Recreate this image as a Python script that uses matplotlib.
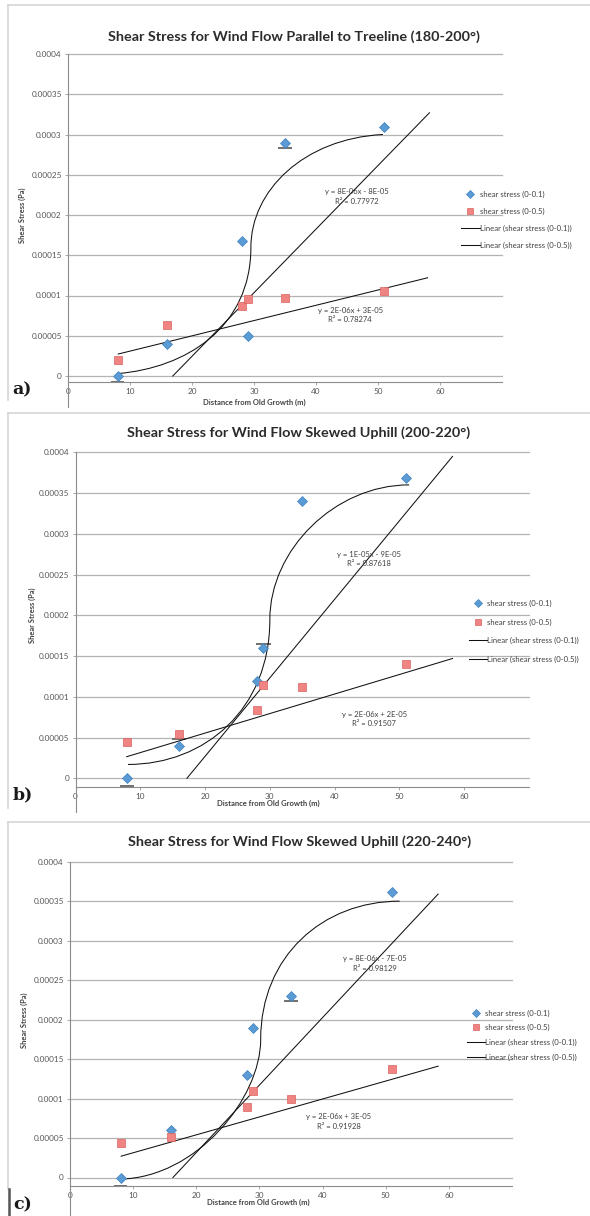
import matplotlib
matplotlib.use("Agg")
import matplotlib.pyplot as plt
from matplotlib.path import Path
from matplotlib.patches import PathPatch
from matplotlib.lines import Line2D

plt.rcParams['font.family'] = ['Lato', 'DejaVu Sans']

########### Data ##################################
distance = [8, 16, 28, 29, 35, 51]

x_ticks = [0, 10, 20, 30, 40, 50, 60]
x_tick_labels = ['0', '10', '20', '30', '40', '50', '60']
y_ticks = [0, 0.00005, 0.0001, 0.00015, 0.0002, 0.00025, 0.0003, 0.00035, 0.0004]
y_tick_labels = ['0', '0.00005', '0.0001', '0.00015', '0.0002', '0.00025',
                 '0.0003', '0.00035', '0.0004']

legend_labels = ['shear stress (0-0.1)', 'shear stress (0-0.5)',
                 'Linear (shear stress (0-0.1))', 'Linear (shear stress (0-0.5))']

titles = ['Shear Stress for Wind Flow Parallel to Treeline (180-200°)',
          'Shear Stress for Wind Flow Skewed Uphill (200-220°)',
          'Shear Stress for Wind Flow Skewed Uphill (220-240°)']
panel_letters = ['a)', 'b)', 'c)']

# a) 180-200 deg
stress_01_a = [0, 3.98e-5, 1.68e-4, 4.97e-5, 2.89e-4, 3.09e-4]
stress_05_a = [2.0e-5, 6.3e-5, 8.7e-5, 9.6e-5, 9.7e-5, 1.06e-4]
trend_01_a = [(16.9, 0), (58.3, 3.27e-4)]
trend_05_a = [(8.1, 2.73e-5), (58.0, 1.22e-4)]
curve_a = [(8, 3e-6), (19, 1e-5), (29.5, 6e-5), (29.5, 1.6e-4),
           (29.5, 2.3e-4), (38, 2.95e-4), (50.8, 3.0e-4)]
eq_01_a = 'y = 8E-06x - 8E-05\nR² = 0.77972'
eq_05_a = 'y = 2E-06x + 3E-05\nR² = 0.78274'
dash_a = [(8, -7e-6), (35, 2.83e-4)]

# b) 200-220 deg
stress_01_b = [0, 3.96e-5, 1.19e-4, 1.60e-4, 3.40e-4, 3.69e-4]
stress_05_b = [4.42e-5, 5.4e-5, 8.4e-5, 1.14e-4, 1.12e-4, 1.40e-4]
trend_01_b = [(17.2, 0), (58.2, 3.95e-4)]
trend_05_b = [(7.9, 2.65e-5), (58.2, 1.47e-4)]
curve_b = [(8.1, 1.7e-5), (20, 1.7e-5), (30, 8.5e-5), (30, 1.95e-4),
           (30, 2.8e-4), (40, 3.6e-4), (51.5, 3.6e-4)]
eq_01_b = 'y = 1E-05x - 9E-05\nR² = 0.87618'
eq_05_b = 'y = 2E-06x + 2E-05\nR² = 0.91507'
dash_b = [(8, -1.0e-5), (29, 1.65e-4), (16, 4.8e-5)]

# c) 220-240 deg
stress_01_c = [0, 6.0e-5, 1.30e-4, 1.89e-4, 2.30e-4, 3.61e-4]
stress_05_c = [4.4e-5, 5.1e-5, 8.9e-5, 1.09e-4, 9.9e-5, 1.37e-4]
trend_01_c = [(16.3, 0), (58.3, 3.59e-4)]
trend_05_c = [(8.1, 2.7e-5), (58.3, 1.41e-4)]
curve_c = [(8, -2e-6), (20, 0), (30.2, 1.0e-4), (30.2, 1.75e-4),
           (30.2, 2.8e-4), (40, 3.5e-4), (52.2, 3.5e-4)]
eq_01_c = 'y = 8E-06x - 7E-05\nR² = 0.98129'
eq_05_c = 'y = 2E-06x + 3E-05\nR² = 0.91928'
dash_c = [(8, -1.08e-5), (35, 2.24e-4)]

########### Layout (pixels of a 590x1216 picture) #############
W, H = 590, 1216
BLUE, BLUE_EDGE = '#5b9bd5', '#3f7fbf'
RED, RED_EDGE = '#f08482', '#d9625f'
GRID = '#b3b3b3'


def fx(x):
    return x / W


def fy(y):
    return 1 - y / H


fig = plt.figure(figsize=(W / 100, H / 100), dpi=100)


def draw_panel(i, s01, s05, t01, t05, curve, eq01, eq05, dashes,
               box, eq_pos, leg, title_xy, ylab_xy, xlab_xy, letter_xy):
    x0, x1, ytop, yzero, ybot = box
    ax = fig.add_axes([fx(x0), fy(ybot), (x1 - x0) / W, (ybot - ytop) / H])
    ymin = -(ybot - yzero) / (yzero - ytop) * 0.0004
    ax.set_xlim(0, 70)
    ax.set_ylim(ymin, 0.0004)

    ax.set_yticks(y_ticks)
    ax.set_yticklabels(y_tick_labels)
    ax.set_xticks(x_ticks)
    ax.set_xticklabels(x_tick_labels)
    ax.tick_params(labelsize=5.9, labelcolor='#555555', color='#999999',
                   length=2.5, width=0.6, pad=2)
    ax.grid(axis='y', color=GRID, lw=0.9)
    for s in ['top', 'right']:
        ax.spines[s].set_visible(False)
    for s in ['left', 'bottom']:
        ax.spines[s].set_color('#8c8c8c')
        ax.spines[s].set_linewidth(0.8)
    for tl in ax.get_ygridlines():
        tl.set_clip_on(False)

    # short grey dashes under some markers
    for dx, dy in dashes:
        ax.plot([dx - 1.1, dx + 1.1], [dy, dy], color='#707070', lw=1.4,
                solid_capstyle='butt', clip_on=False, zorder=2)

    # hand drawn S-curve
    codes = [Path.MOVETO] + [Path.CURVE4] * 6
    ax.add_patch(PathPatch(Path(curve, codes), fill=False, ec='#111111', lw=0.75, zorder=3))

    l01, = ax.plot([p[0] for p in t01], [p[1] for p in t01], color='#111111', lw=0.75, zorder=3)
    l05, = ax.plot([p[0] for p in t05], [p[1] for p in t05], color='#111111', lw=0.75, zorder=3)

    m01, = ax.plot(distance, s01, ls='none', marker='D', ms=5.2, mfc=BLUE,
                   mec=BLUE_EDGE, mew=0.5, zorder=4, clip_on=False)
    m05, = ax.plot(distance, s05, ls='none', marker='s', ms=6.3, mfc=RED,
                   mec=RED_EDGE, mew=0.5, zorder=4, clip_on=False)

    for txt, (ex, ey) in zip([eq01, eq05], eq_pos):
        ax.text(ex, ey, txt, ha='center', va='center', fontsize=5.5,
                color='#404040', linespacing=1.4, zorder=5)

    lx, ly, lsp = leg
    ax.legend([m01, m05, l01, l05], legend_labels, loc='center left',
              bbox_to_anchor=(fx(lx), fy(ly)), bbox_transform=fig.transFigure,
              frameon=False, fontsize=5.6, labelspacing=lsp, handlelength=2.4,
              handletextpad=0.0, borderpad=0, borderaxespad=0, numpoints=1,
              markerscale=0.75, labelcolor='#404040')

    fig.text(fx(title_xy[0]), fy(title_xy[1]), titles[i], ha='center', va='center',
             fontsize=10.4, fontweight='bold', color='#2b2b2b')
    fig.text(fx(ylab_xy[0]), fy(ylab_xy[1]), 'Shear Stress (Pa)', rotation=90,
             ha='center', va='center', fontsize=5.4, fontweight='bold', color='#404040')
    fig.text(fx(xlab_xy[0]), fy(xlab_xy[1]), 'Distance from Old Growth (m)',
             ha='center', va='center', fontsize=5.5, fontweight='bold', color='#404040')
    fig.text(fx(letter_xy[0]), fy(letter_xy[1]), panel_letters[i], ha='center',
             va='center', fontsize=12.5, fontweight='bold', family='DejaVu Serif',
             color='#1a1a1a')
    return ax


draw_panel(0, stress_01_a, stress_05_a, trend_01_a, trend_05_a, curve_a,
           eq_01_a, eq_05_a, dash_a,
           box=(68, 502, 54, 376, 382),
           eq_pos=[(46.6, 2.23e-4), (45.5, 7.6e-5)],
           leg=(461, 220, 1.25),
           title_xy=(293.5, 37), ylab_xy=(22, 215), xlab_xy=(254, 402),
           letter_xy=(22, 390))

draw_panel(1, stress_01_b, stress_05_b, trend_01_b, trend_05_b, curve_b,
           eq_01_b, eq_05_b, dash_b,
           box=(75.5, 529, 452.3, 778.3, 786.5),
           eq_pos=[(45.3, 2.69e-4), (46.1, 7.25e-5)],
           leg=(468.6, 631.3, 1.48),
           title_xy=(299, 433), ylab_xy=(32, 615), xlab_xy=(268, 803),
           letter_xy=(23, 795))

draw_panel(2, stress_01_c, stress_05_c, trend_01_c, trend_05_c, curve_c,
           eq_01_c, eq_05_c, dash_c,
           box=(70, 512, 861.7, 1177.5, 1186),
           eq_pos=[(48.3, 2.71e-4), (42.6, 7.1e-5)],
           leg=(466.5, 1035, 0.96),
           title_xy=(300, 841.7), ylab_xy=(24.5, 1020), xlab_xy=(258.7, 1202),
           letter_xy=(23, 1205))

########### Chart frames and axis stubs #############
FRAME = '#d6d6d6'
for top, bottom in [(5, 400), (413, 808), (822, 1189)]:
    fig.add_artist(Line2D([fx(7.5), fx(W)], [fy(top), fy(top)], color=FRAME, lw=1.2))
    fig.add_artist(Line2D([fx(7.5), fx(7.5)], [fy(top), fy(bottom)], color=FRAME, lw=1.2))
fig.add_artist(Line2D([fx(9), fx(9)], [fy(1189), fy(H)], color='#555555', lw=1.8))
for ax_x, y_from, y_to in [(68, 382, 407), (75.5, 786.5, 812), (70, 1186, H)]:
    fig.add_artist(Line2D([fx(ax_x), fx(ax_x)], [fy(y_from), fy(y_to)],
                          color='#8c8c8c', lw=0.8))

fig.savefig('out.png', dpi=100)
